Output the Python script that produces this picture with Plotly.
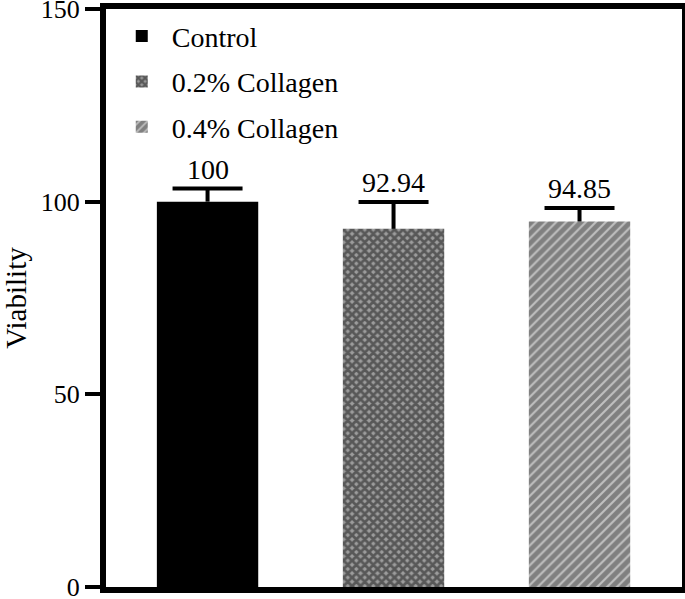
import plotly.graph_objects as go

categories = ["Control", "0.2% Collagen", "0.4% Collagen"]
viability = [100, 92.94, 94.85]
errors = [3.4, 7.0, 3.5]
label_text = ["100", "92.94", "94.85"]
y_ticks = [0, 50, 100, 150]

FONT = "Liberation Serif, Times New Roman, serif"

styles = [
    dict(color="#000000", pattern=dict(shape="")),
    dict(color="#5a5a5a", pattern=dict(shape="x", fgcolor="#141414", bgcolor="#9c9c9c", size=6, solidity=0.72, fillmode="overlay")),
    dict(color="#808080", pattern=dict(shape="/", fgcolor="#ffffff", bgcolor="#808080", size=7, solidity=0.3, fillmode="overlay")),
]

fig = go.Figure()
for i, cat in enumerate(categories):
    fig.add_trace(go.Bar(
        x=[cat], y=[viability[i]], name=cat, width=0.545,
        marker=dict(color=styles[i]["color"], pattern=styles[i]["pattern"], line=dict(width=0)),
        legendgroup=f"g{i}",
    ))

# error bars: upper only, cap drawn as a line marker at the top
tops = [v + e for v, e in zip(viability, errors)]
fig.add_trace(go.Scatter(
    x=categories, y=tops, mode="markers", showlegend=False, hoverinfo="skip",
    marker=dict(symbol="line-ew", size=50, color="black", line=dict(width=4, color="black")),
    error_y=dict(type="data", array=[0, 0, 0], arrayminus=errors, symmetric=False,
                 color="black", thickness=4, width=0),
))

for i, cat in enumerate(categories):
    fig.add_annotation(x=cat, y=tops[i], text=label_text[i],
                       showarrow=False, yanchor="bottom", yshift=2,
                       font=dict(family=FONT, size=28, color="black"))

fig.update_layout(
    width=685, height=599,
    margin=dict(l=106, r=3, t=9, b=12),
    paper_bgcolor="white", plot_bgcolor="white",
    barmode="overlay",
    font=dict(family=FONT, size=26, color="black"),
    showlegend=True,
    legend=dict(x=0.01, y=0.996, xanchor="left", yanchor="top",
                bgcolor="rgba(0,0,0,0)", font=dict(family=FONT, size=28),
                itemwidth=50, tracegroupgap=6),
)
fig.update_xaxes(
    categoryorder="array", categoryarray=categories,
    range=[-0.546, 2.551], showticklabels=False, ticks="",
    showline=True, linewidth=6, linecolor="black", mirror=True,
    showgrid=False, zeroline=False, automargin=False,
)
fig.update_yaxes(
    range=[0, 150], tickvals=y_ticks, ticks="outside", ticklen=15, tickwidth=4,
    tickcolor="black", showline=True, linewidth=6, linecolor="black", mirror=True,
    showgrid=False, zeroline=False, ticklabeloverflow="allow", ticklabelstandoff=0,
    automargin=False,
    title=dict(text="Viability", font=dict(family=FONT, size=29), standoff=34),
    tickfont=dict(family=FONT, size=26),
)

fig.write_html("out.html", config={"displayModeBar": False},
               post_script="document.body.style.margin='0';document.body.style.padding='0';")
